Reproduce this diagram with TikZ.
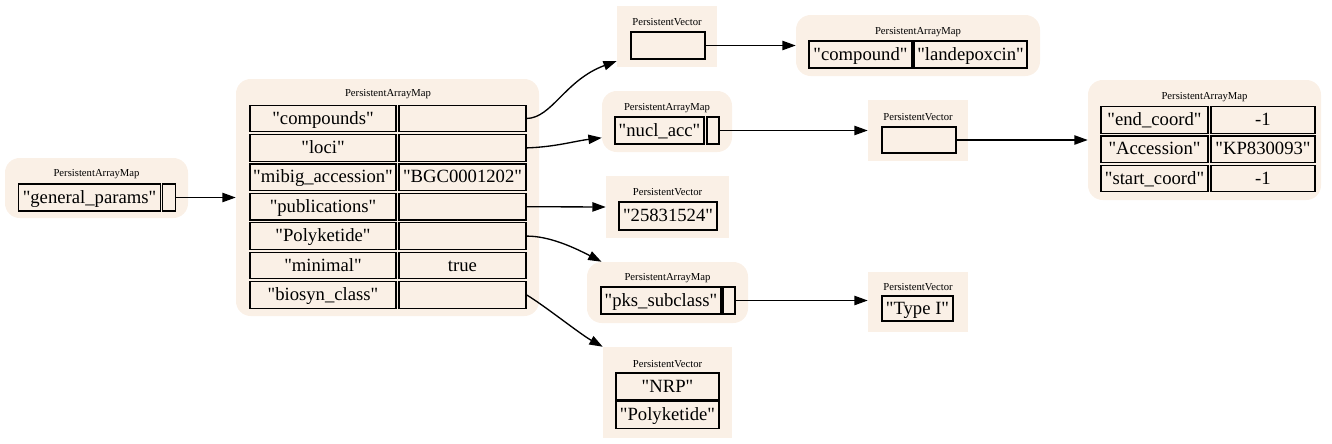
\documentclass[tikz,border=0pt]{standalone}
\usepackage{fontspec}
\setmainfont{Liberation Serif}[Ligatures=TeXOff]
\usetikzlibrary{arrows.meta}
\definecolor{linen}{HTML}{FAF0E6}
\newcommand\qq[1]{"#1"}
\tikzset{
  bgmap/.style={fill=linen, draw=none, rounded corners=11pt, inner sep=0pt},
  bgvec/.style={fill=linen, draw=none, inner sep=0pt},
  cell/.style={draw=black, fill=linen, line width=0.9pt, inner sep=0pt,
    text height=11pt, text depth=2.6pt,
    font=\fontsize{14}{16}\selectfont},
  lbl/.style={inner sep=0pt, font=\fontsize{8}{9}\selectfont},
  edge/.style={line width=1pt, -{Triangle[length=10pt,width=7pt]}},
}
\begin{document}
\begin{tikzpicture}[x=0.75pt,y=-0.75pt]
\useasboundingbox (0,0) rectangle (1332,443);
% general params map
\node[bgmap, minimum width=183*0.75pt, minimum height=60*0.75pt] (gpbg) at (96.5,188) {};
\node[lbl] (gplbl) at (96.5,174) {PersistentArrayMap};
\node[cell, minimum width=142*0.75pt, minimum height=27*0.75pt] (gpk) at (89.5,197.5) {\qq{general\_params}};
\node[cell, minimum width=13*0.75pt, minimum height=27*0.75pt] (gpv) at (169,197.5) {};
% main map
\node[bgmap, minimum width=303*0.75pt, minimum height=237*0.75pt] (mbg) at (387.5,197.5) {};
\node[lbl] (mlbl) at (388,94) {PersistentArrayMap};
\foreach \nm/\k/\v [count=\i from 0] in {
  compounds/\qq{compounds}/{},
  loci/\qq{loci}/{},
  mibig/\qq{mibig\_accession}/\qq{BGC0001202},
  pubs/\qq{publications}/{},
  poly/\qq{Polyketide}/{},
  minimal/\qq{minimal}/true,
  biosyn/\qq{biosyn\_class}/{}}{
  \node[cell, minimum width=146*0.75pt, minimum height=26.5*0.75pt] (\nm k) at (323,118.5+29.4*\i) {\k};
  \node[cell, minimum width=127*0.75pt, minimum height=26.5*0.75pt] (\nm v) at (462.5,118.5+29.4*\i) {\v};
}
% compounds vector
\node[bgvec, minimum width=100*0.75pt, minimum height=61*0.75pt] (cvbg) at (667,36.5) {};
\node[lbl] (cvlbl) at (667,22) {PersistentVector};
\node[cell, minimum width=74*0.75pt, minimum height=27*0.75pt] (cv) at (668,45.5) {};
% compound map
\node[bgmap, minimum width=244*0.75pt, minimum height=61*0.75pt] (cmbg) at (918,45.5) {};
\node[lbl] (cmlbl) at (918,32) {PersistentArrayMap};
\node[cell, minimum width=103*0.75pt, minimum height=27*0.75pt] (cmk) at (860.5,54.5) {\qq{compound}};
\node[cell, minimum width=113*0.75pt, minimum height=27*0.75pt] (cmv) at (970.5,54.5) {\qq{landepoxcin}};
% nucl_acc map
\node[bgmap, minimum width=130*0.75pt, minimum height=61*0.75pt] (nabg) at (667,121.5) {};
\node[lbl] (nalbl) at (667,108) {PersistentArrayMap};
\node[cell, minimum width=89*0.75pt, minimum height=27*0.75pt] (nak) at (659.5,130.5) {\qq{nucl\_acc}};
\node[cell, minimum width=12*0.75pt, minimum height=27*0.75pt] (nav) at (713,130.5) {};
% loci vector
\node[bgvec, minimum width=100*0.75pt, minimum height=61*0.75pt] (lvbg) at (918,130.5) {};
\node[lbl] (lvlbl) at (918,117) {PersistentVector};
\node[cell, minimum width=74*0.75pt, minimum height=26*0.75pt] (lv) at (919,140) {};
% loci map
\node[bgmap, minimum width=233*0.75pt, minimum height=120*0.75pt] (lmbg) at (1204.5,140) {};
\node[lbl] (lmlbl) at (1204.5,97) {PersistentArrayMap};
\foreach \nm/\k/\v [count=\i from 0] in {
  ec/\qq{end\_coord}/-1,
  acc/\qq{Accession}/\qq{KP830093},
  sc/\qq{start\_coord}/-1}{
  \node[cell, minimum width=107*0.75pt, minimum height=26.5*0.75pt] (\nm k) at (1154.5,120+29.3*\i) {\k};
  \node[cell, minimum width=104*0.75pt, minimum height=26.5*0.75pt] (\nm v) at (1263,120+29.3*\i) {\v};
}
% publications vector
\node[bgvec, minimum width=123*0.75pt, minimum height=62*0.75pt] (pvbg) at (667.5,207) {};
\node[lbl] (pvlbl) at (667.5,192) {PersistentVector};
\node[cell, minimum width=98*0.75pt, minimum height=28*0.75pt] (pv) at (668,216) {\qq{25831524}};
% pks map
\node[bgmap, minimum width=161*0.75pt, minimum height=61*0.75pt] (pkbg) at (667.5,292.5) {};
\node[lbl] (pklbl) at (667.5,278) {PersistentArrayMap};
\node[cell, minimum width=120*0.75pt, minimum height=27*0.75pt] (pkk) at (661,300.5) {\qq{pks\_subclass}};
\node[cell, minimum width=12*0.75pt, minimum height=27*0.75pt] (pkv) at (729,300.5) {};
% Type I vector
\node[bgvec, minimum width=100*0.75pt, minimum height=60*0.75pt] (tvbg) at (918,302) {};
\node[lbl] (tvlbl) at (918,287) {PersistentVector};
\node[cell, minimum width=71*0.75pt, minimum height=25*0.75pt] (tv) at (917.5,308.5) {\qq{Type I}};
% biosyn vector
\node[bgvec, minimum width=129*0.75pt, minimum height=91*0.75pt] (bvbg) at (667.5,392.5) {};
\node[lbl] (bvlbl) at (667.5,364) {PersistentVector};
\node[cell, minimum width=103*0.75pt, minimum height=27*0.75pt] (bv1) at (667.5,386.5) {\qq{NRP}};
\node[cell, minimum width=103*0.75pt, minimum height=27*0.75pt] (bv2) at (667.5,415) {\qq{Polyketide}};
% edges
\draw[edge] (gpv.east) -- (mbg.west);
\draw[edge] (compoundsv.east) .. controls (552,118) and (565,80) .. (cvbg.206);
\draw[edge] (lociv.east) .. controls (555,147) and (575,141) .. (nabg.194);
\draw[edge] (pubsv.east) -- (pvbg.west);
\draw[edge] (polyv.east) .. controls (550,236) and (575,248) .. (pkbg.155);
\draw[edge] (biosynv.east) .. controls (545,306) and (580,334) .. (bvbg.north west);
\draw[edge] (cv.east) -- (cv.east -| cmbg.west);
\draw[edge] (nav.east) -- (nav.east -| lvbg.west);
\draw[edge] (lv.east) -- (lv.east -| lmbg.west);
\draw[edge] (pkv.east) -- (pkv.east -| tvbg.west);
\end{tikzpicture}
\end{document}
